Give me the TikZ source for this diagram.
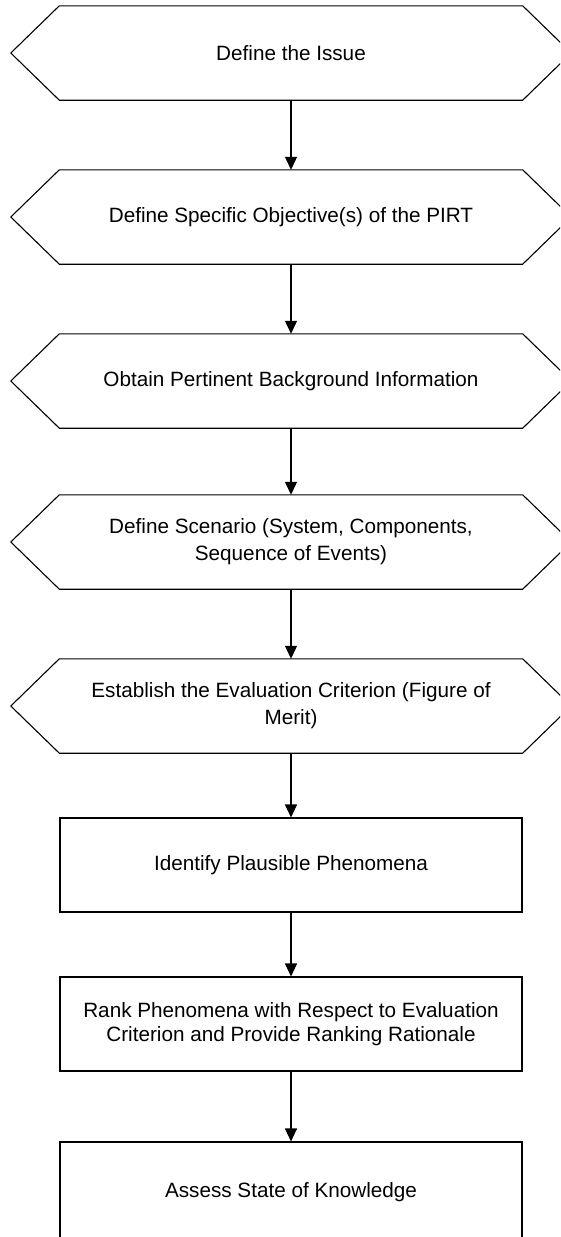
\documentclass[tikz,border=0pt]{standalone}
\usepackage{fontspec}
\setmainfont{Liberation Sans}
\usetikzlibrary{arrows.meta}
\tikzset{
  hexbox/.style={minimum width=463pt, minimum height=94pt, inner sep=0pt, align=center,
    font=\fontsize{20.7}{27}\selectfont},
  rectbox/.style={draw, line width=1.1pt, minimum width=462pt, minimum height=94pt, inner sep=0pt, align=center,
    font=\fontsize{20.7}{24}\selectfont},
  flowarrow/.style={line width=1.1pt, -{Triangle[length=13pt,width=12pt]}},
  hexline/.style={line width=1.1pt, line join=miter}
}
\begin{document}
\begin{tikzpicture}[x=1pt, y=-1pt]
\useasboundingbox (0,0) rectangle (560,1237);
\fill[white] (0,0) rectangle (560,1237);
\begin{scope}
\clip (0,0) rectangle (560,1237);
\node[hexbox] (h1) at (291,53) {Define the Issue};
\node[hexbox] (h2) at (291,217) {Define Specific Objective(s) of the PIRT};
\node[hexbox] (h3) at (291,381) {Obtain Pertinent Background Information};
\node[hexbox] (h4) at (291,542) {Define Scenario (System, Components,\\Sequence of Events)};
\node[hexbox] (h5) at (291,706) {Establish the Evaluation Criterion (Figure of\\Merit)};
\node[rectbox] (r1) at (291,865) {Identify Plausible Phenomena};
\node[rectbox] (r2) at (291,1024) {Rank Phenomena with Respect to Evaluation\\Criterion and Provide Ranking Rationale};
\node[rectbox, minimum height=100pt] (r3) at (291,1192) {Assess State of Knowledge};
\foreach \n in {h1,h2,h3,h4,h5}{
  \draw[hexline] (\n.north west) -- (\n.north east) -- ([xshift=48.5pt]\n.east)
    -- (\n.south east) -- (\n.south west) -- ([xshift=-48.5pt]\n.west) -- cycle;
}
\draw[flowarrow] (h1.south) -- (h2.north);
\draw[flowarrow] (h2.south) -- (h3.north);
\draw[flowarrow] (h3.south) -- (h4.north);
\draw[flowarrow] (h4.south) -- (h5.north);
\draw[flowarrow] (h5.south) -- (r1.north);
\draw[flowarrow] (r1.south) -- (r2.north);
\draw[flowarrow] (r2.south) -- (r3.north);
\end{scope}
\end{tikzpicture}
\end{document}
